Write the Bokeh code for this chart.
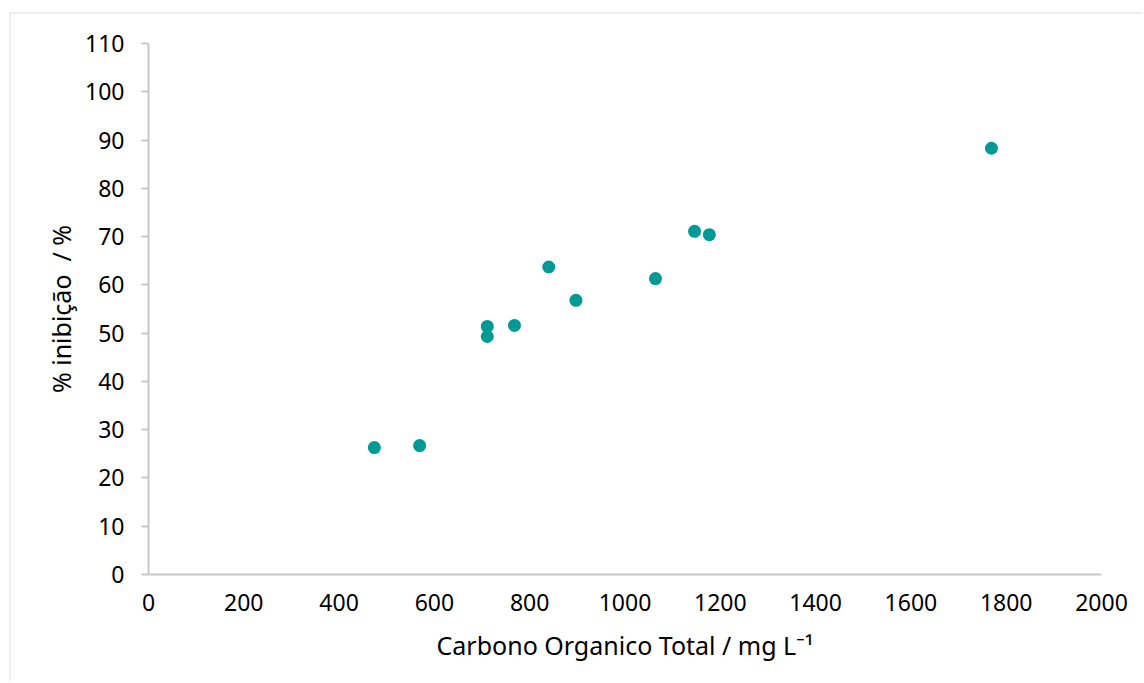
from bokeh.plotting import figure
from bokeh.embed import file_html
from bokeh.resources import INLINE
from bokeh.models import ColumnDataSource, Range1d, FixedTicker

# data
toc = [474, 569, 711, 711, 768, 840, 897, 1064, 1146, 1177, 1769]
inhibition = [26.3, 26.7, 51.4, 49.3, 51.6, 63.7, 56.8, 61.3, 71.1, 70.4, 88.3]
x_ticks = list(range(0, 2001, 200))
y_ticks = list(range(0, 111, 10))
x_title = "Carbono Organico Total / mg L⁻¹"
y_title = "% inibição\u00a0 / %"

FONT = "Noto Sans"

p = figure(width=1133, height=669, output_backend="svg", toolbar_location=None,
           x_range=Range1d(0, 2000), y_range=Range1d(0, 110),
           min_border_left=137, min_border_right=43, min_border_top=29, min_border_bottom=109)
p.styles = {"margin-left": "9px", "margin-top": "12px",
            "border-left": "2px solid #eeeeee", "border-top": "2px solid #eeeeee"}
p.outline_line_color = None
p.grid.visible = False

src = ColumnDataSource(dict(x=toc, y=inhibition))
p.scatter("x", "y", source=src, size=13, fill_color="#009a96", line_color=None)

for ax in (p.xaxis[0], p.yaxis[0]):
    ax.axis_line_color = "#c8c8c8"
    ax.axis_line_width = 2
    ax.minor_tick_line_color = None
    ax.major_label_text_font = FONT
    ax.major_label_text_font_size = "23px"
    ax.major_label_text_color = "#000000"
    ax.axis_label_text_font = FONT
    ax.axis_label_text_font_size = "25px"
    ax.axis_label_text_font_style = "normal"
    ax.axis_label_text_color = "#000000"

p.xaxis.ticker = FixedTicker(ticks=x_ticks)
p.yaxis.ticker = FixedTicker(ticks=y_ticks)
p.xaxis.major_tick_line_color = None
p.xaxis.major_label_standoff = 13
p.xaxis.axis_label = x_title
p.xaxis.axis_label_standoff = 14
p.yaxis.major_tick_line_color = "#c8c8c8"
p.yaxis.major_tick_line_width = 2
p.yaxis.major_tick_out = 7
p.yaxis.major_tick_in = 0
p.yaxis.major_label_standoff = 17
p.yaxis.axis_label = y_title
p.yaxis.axis_label_standoff = 4

open("out.html", "w").write(file_html(p, INLINE))
